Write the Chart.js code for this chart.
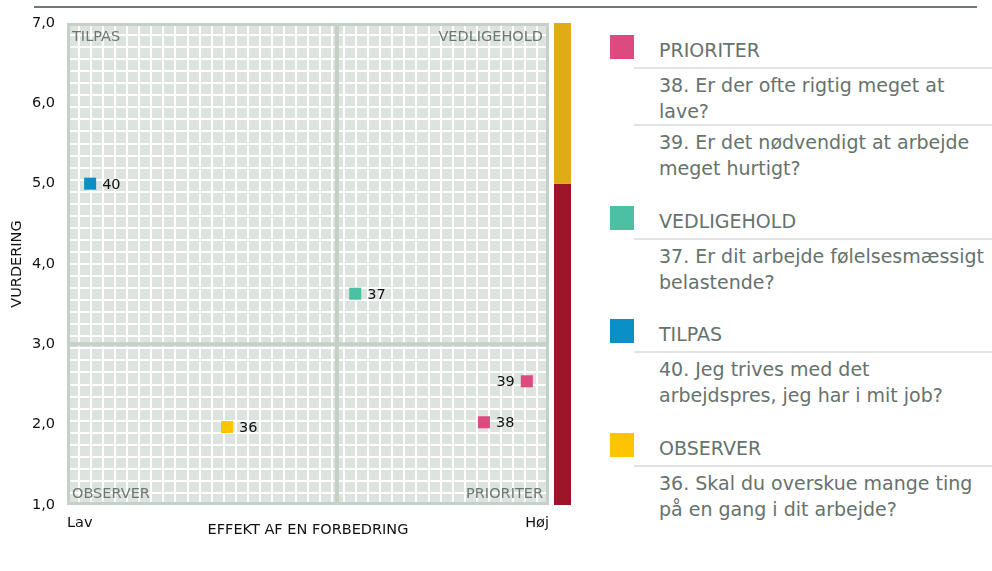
<!DOCTYPE html>
<html><head><meta charset="utf-8">
<script src="https://cdn.jsdelivr.net/npm/chart.js@4/dist/chart.umd.min.js"></script>
<style>
html,body{margin:0;padding:0;background:#fff;width:992px;height:571px;overflow:hidden;font-family:'DejaVu Sans',sans-serif;}
#topline{position:absolute;left:34px;top:6px;width:943px;height:2px;background:#6f7a74;}
#wrap{position:absolute;left:0;top:0;width:600px;height:571px;}
#legend{position:absolute;left:610px;top:35px;width:382px;color:#66726c;font-size:19px;}
.grp{margin-bottom:24.5px;}
.hdr{position:relative;height:32px;}
.sw{position:absolute;left:0;top:0;width:24px;height:24px;}
.hd{position:absolute;left:49px;top:3px;line-height:24px;white-space:nowrap;}
.sep{margin-left:24px;height:2px;background:#e2e4e3;}
.item{margin-top:3px;padding-left:49px;line-height:26px;white-space:nowrap;}
</style>
</head><body>
<div id="topline"></div>
<div id="wrap"><canvas id="c" width="600" height="571"></canvas></div>
<div id="legend"></div>
<script>
// ---- data ----
const questionIds   = ['36', '37', '38', '39', '40'];
const effectValues  = [33.2, 59.8, 86.5, 95.4, 4.8];
const ratingValues  = [1.97, 3.63, 2.03, 2.54, 5.0];
const quadrantOf    = ['OBSERVER', 'VEDLIGEHOLD', 'PRIORITER', 'PRIORITER', 'TILPAS'];
const questionLines = [
  ['36. Skal du overskue mange ting', 'på en gang i dit arbejde?'],
  ['37. Er dit arbejde følelsesmæssigt', 'belastende?'],
  ['38. Er der ofte rigtig meget at', 'lave?'],
  ['39. Er det nødvendigt at arbejde', 'meget hurtigt?'],
  ['40. Jeg trives med det', 'arbejdspres, jeg har i mit job?']
];
const legendOrder   = ['PRIORITER', 'VEDLIGEHOLD', 'TILPAS', 'OBSERVER'];
const yTickLabels   = ['1,0', '2,0', '3,0', '4,0', '5,0', '6,0', '7,0'];
const xTickLabels   = ['Lav', 'Høj'];
const xTitle        = 'EFFEKT AF EN FORBEDRING';
const yTitle        = 'VURDERING';
const xDivider      = 56;
const yDivider      = 3.0;
const bandBreaks    = [1, 5, 7];

// ---- styles ----
const quadColors = {PRIORITER:'#dc4a7f', VEDLIGEHOLD:'#4cc1a1', TILPAS:'#0a8fc6', OBSERVER:'#ffc400'};
const bandColors = ['#9c1629', '#e0ab14'];
const FONT = 'DejaVu Sans';
const FS = 14.5;

// ---- legend (HTML) ----
const legend = document.getElementById('legend');
legendOrder.forEach(q => {
  const g = document.createElement('div'); g.className = 'grp';
  const h = document.createElement('div'); h.className = 'hdr';
  const sw = document.createElement('div'); sw.className = 'sw'; sw.style.background = quadColors[q];
  const hd = document.createElement('div'); hd.className = 'hd'; hd.textContent = q;
  h.appendChild(sw); h.appendChild(hd); g.appendChild(h);
  const sep = document.createElement('div'); sep.className = 'sep'; g.appendChild(sep);
  const idx = [];
  quadrantOf.forEach((qq, i) => { if (qq === q) idx.push(i); });
  idx.sort((a, b) => Number(questionIds[a]) - Number(questionIds[b]));
  idx.forEach((i, k) => {
    const it = document.createElement('div'); it.className = 'item';
    questionLines[i].forEach((ln, j) => {
      if (j) it.appendChild(document.createElement('br'));
      it.appendChild(document.createTextNode(ln));
    });
    g.appendChild(it);
    if (k < idx.length - 1) { const s = document.createElement('div'); s.className = 'sep'; g.appendChild(s); }
  });
  legend.appendChild(g);
});

// ---- chart ----
const quadPlugin = {
  id: 'quad',
  beforeDraw(chart) {
    const {ctx, chartArea: a} = chart;
    ctx.save();
    ctx.fillStyle = '#dde3df';
    ctx.fillRect(a.left, a.top, a.right - a.left, a.bottom - a.top);
    ctx.restore();
  },
  beforeDatasetsDraw(chart) {
    const {ctx, chartArea: a, scales: {x, y}} = chart;
    ctx.save();
    ctx.strokeStyle = '#c5d0c6';
    ctx.lineWidth = 4;
    const dx = x.getPixelForValue(xDivider), dy = y.getPixelForValue(yDivider);
    ctx.beginPath();
    ctx.moveTo(dx, a.top); ctx.lineTo(dx, a.bottom);
    ctx.moveTo(a.left, dy); ctx.lineTo(a.right, dy);
    ctx.stroke();
    ctx.lineWidth = 3;
    ctx.strokeRect(a.left + 1.5, a.top + 1.5, a.right - a.left - 3, a.bottom - a.top - 3);
    ctx.fillStyle = '#6b786f';
    ctx.font = FS + 'px "' + FONT + '"';
    ctx.textBaseline = 'alphabetic';
    ctx.textAlign = 'left';
    ctx.fillText('TILPAS', a.left + 5, a.top + 18);
    ctx.fillText('OBSERVER', a.left + 5, a.bottom - 7);
    ctx.textAlign = 'right';
    ctx.fillText('VEDLIGEHOLD', a.right - 6, a.top + 18);
    ctx.fillText('PRIORITER', a.right - 6, a.bottom - 7);
    for (let i = 0; i < bandBreaks.length - 1; i++) {
      const y0 = y.getPixelForValue(bandBreaks[i]);
      const y1 = y.getPixelForValue(bandBreaks[i + 1]);
      ctx.fillStyle = bandColors[i];
      ctx.fillRect(a.right + 5, y1, 17, y0 - y1);
    }
    ctx.restore();
  },
  afterDatasetsDraw(chart) {
    const {ctx} = chart;
    const meta = chart.getDatasetMeta(0);
    ctx.save();
    ctx.fillStyle = '#111';
    ctx.font = FS + 'px "' + FONT + '"';
    ctx.textBaseline = 'alphabetic';
    meta.data.forEach((pt, i) => {
      const px = pt.x, py = pt.y;
      if (effectValues[i] > 90) { ctx.textAlign = 'right'; ctx.fillText(questionIds[i], px - 12, py + 5); }
      else { ctx.textAlign = 'left'; ctx.fillText(questionIds[i], px + 12, py + 5); }
    });
    ctx.restore();
  }
};

new Chart(document.getElementById('c'), {
  type: 'scatter',
  data: {
    datasets: [{
      data: effectValues.map((v, i) => ({x: v, y: ratingValues[i]})),
      pointStyle: 'rect',
      pointRadius: 8.5,
      pointHoverRadius: 8.5,
      borderWidth: 0,
      pointBorderWidth: 0,
      pointBackgroundColor: quadrantOf.map(q => quadColors[q]),
      backgroundColor: quadrantOf.map(q => quadColors[q])
    }]
  },
  options: {
    responsive: false,
    devicePixelRatio: 1,
    animation: false,
    events: [],
    layout: {padding: {top: 23, right: 51, bottom: 20, left: 0}},
    plugins: {legend: {display: false}, tooltip: {enabled: false}},
    scales: {
      x: {
        type: 'linear', min: 0, max: 100, position: 'bottom',
        afterBuildTicks: s => { s.ticks = [{value: 0}, {value: 100}]; },
        afterFit: s => { s.height = 46; },
        grid: {display: false, drawTicks: false},
        border: {display: false},
        ticks: {align: 'inner', padding: 10, color: '#111', maxRotation: 0, autoSkip: false,
                font: {family: FONT, size: FS}, callback: (v, i) => xTickLabels[i]},
        title: {display: true, text: xTitle, color: '#111', font: {family: FONT, size: FS},
                padding: {top: 0, bottom: 12.3}}
      },
      y: {
        type: 'linear', min: 1, max: 7, position: 'left',
        afterFit: s => { s.width = 67; },
        grid: {display: false, drawTicks: false},
        border: {display: false},
        ticks: {stepSize: 1, padding: 12, color: '#111', font: {family: FONT, size: FS},
                callback: (v, i) => yTickLabels[i]},
        title: {display: true, text: yTitle, color: '#111', font: {family: FONT, size: FS},
                padding: {top: 8.5, bottom: 0}}
      },
      gx: {
        type: 'linear', min: 0, max: 40, position: 'top',
        afterBuildTicks: s => { const t = []; for (let i = 0; i <= 40; i++) t.push({value: i}); s.ticks = t; },
        afterFit: s => { s.height = 0; },
        ticks: {display: false},
        grid: {color: '#ffffff', lineWidth: 2, drawTicks: false},
        border: {display: false}
      },
      gy: {
        type: 'linear', min: 0, max: 40, position: 'right',
        afterBuildTicks: s => { const t = []; for (let i = 0; i <= 40; i++) t.push({value: i}); s.ticks = t; },
        afterFit: s => { s.width = 0; },
        ticks: {display: false},
        grid: {color: '#ffffff', lineWidth: 2, drawTicks: false},
        border: {display: false}
      }
    }
  },
  plugins: [quadPlugin]
});
</script>
</body></html>
